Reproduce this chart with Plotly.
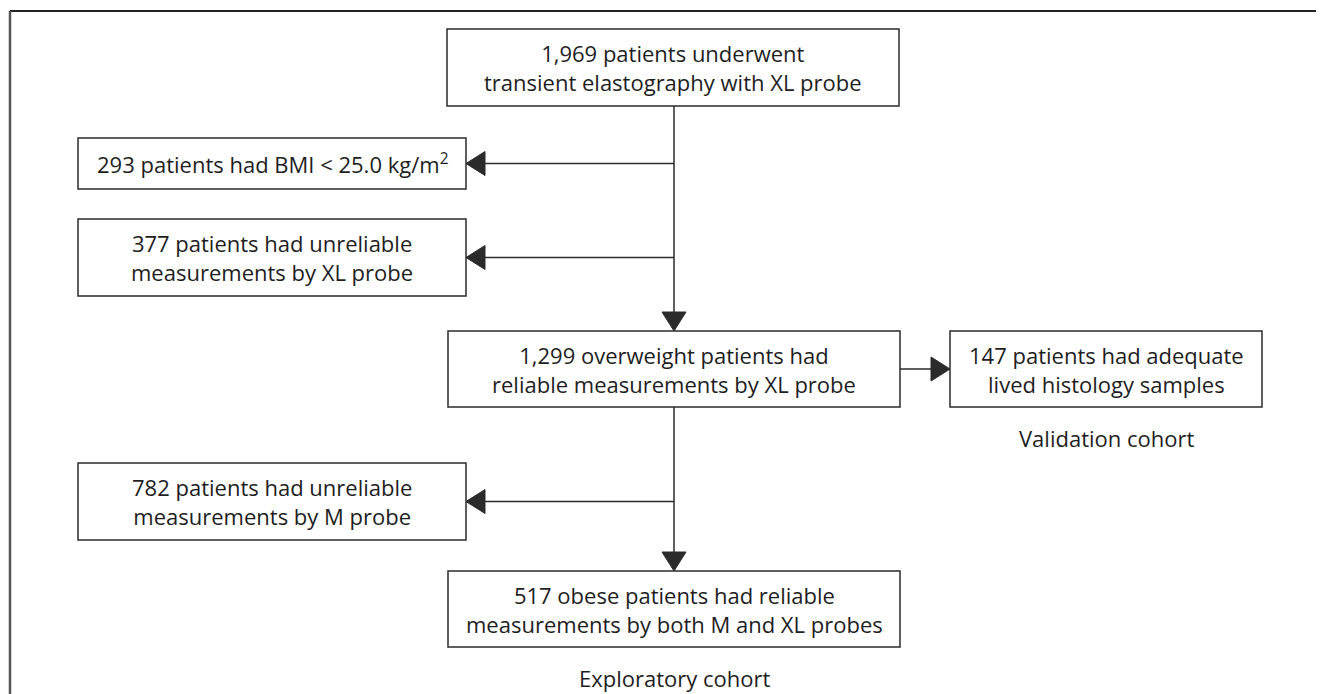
import plotly.graph_objects as go

# ---- data ----
counts = [1969, 293, 377, 1299, 147, 782, 517]
box_labels = [
    "1,969 patients underwent<br>transient elastography with XL probe",
    "293 patients had BMI < 25.0 kg/m<sup>2</sup>",
    "377 patients had unreliable<br>measurements by XL probe",
    "1,299 overweight patients had<br>reliable measurements by XL probe",
    "147 patients had adequate<br>lived histology samples",
    "782 patients had unreliable<br>measurements by M probe",
    "517 obese patients had reliable<br>measurements by both M and XL probes",
]
cohort_labels = ["Validation cohort", "Exploratory cohort"]

# ---- layout (page pixel coordinates: x0, y0, x1, y1) ----
boxes = [
    (447, 29, 899, 106),
    (78, 138, 466, 189),
    (78, 219, 466, 296),
    (448, 331, 900, 407),
    (950, 331, 1262, 407),
    (78, 463, 466, 540),
    (448, 571, 900, 647),
]
cohort_pos = [(1106, 438), (674, 678)]

LINE = "#2b2b2b"
FONT = "Open Sans"
FS = 22
TXT = "#1e1e1e"

fig = go.Figure()
shapes = []
annotations = []

# outer frame (top and left edges visible)
shapes.append(dict(type="line", x0=10, y0=11, x1=1330, y1=11,
                   line=dict(color="#222222", width=2)))
shapes.append(dict(type="line", x0=10, y0=11, x1=10, y1=700,
                   line=dict(color="#555555", width=2.5)))


def add_text(cx, cy, lab):
    annotations.append(dict(x=cx, y=cy, text=lab, showarrow=False,
                            xanchor="center", yanchor="middle",
                            font=dict(family=FONT, size=FS, color=TXT)))


for (x0, y0, x1, y1), lab in zip(boxes, box_labels):
    shapes.append(dict(type="rect", x0=x0, y0=y0, x1=x1, y1=y1,
                       line=dict(color=LINE, width=1.5), fillcolor="white"))
    add_text((x0 + x1) / 2, (y0 + y1) / 2, lab)

for (cx, cy), lab in zip(cohort_pos, cohort_labels):
    add_text(cx, cy, lab)

AL, AW = 19, 12  # arrowhead length, half-width


def arrow(x0, y0, x1, y1):
    if x0 == x1:
        d = 1 if y1 > y0 else -1
        base = y1 - d * AL
        shapes.append(dict(type="line", x0=x0, y0=y0, x1=x1, y1=base,
                           line=dict(color=LINE, width=1.5)))
        shapes.append(dict(type="path",
                           path=f"M {x1-AW},{base} L {x1+AW},{base} L {x1},{y1} Z",
                           fillcolor=LINE, line=dict(color=LINE, width=1)))
    else:
        d = 1 if x1 > x0 else -1
        base = x1 - d * AL
        shapes.append(dict(type="line", x0=x0, y0=y0, x1=base, y1=y1,
                           line=dict(color=LINE, width=1.5)))
        shapes.append(dict(type="path",
                           path=f"M {base},{y1-AW} L {base},{y1+AW} L {x1},{y1} Z",
                           fillcolor=LINE, line=dict(color=LINE, width=1)))


def midy(b):
    return (b[1] + b[3]) / 2


cx = 674
arrow(cx, boxes[0][3], cx, boxes[3][1])
arrow(cx, midy(boxes[1]), boxes[1][2], midy(boxes[1]))
arrow(cx, midy(boxes[2]), boxes[2][2], midy(boxes[2]))
arrow(boxes[3][2], midy(boxes[3]), boxes[4][0], midy(boxes[3]))
arrow(cx, boxes[3][3], cx, boxes[6][1])
arrow(cx, midy(boxes[5]), boxes[5][2], midy(boxes[5]))

# page has an 8px body margin; map axis coordinates to page pixels
OFF = 8
W, H = 1324 - OFF, 694 - OFF
fig.update_layout(
    width=W, height=H,
    margin=dict(l=0, r=0, t=0, b=0),
    paper_bgcolor="white", plot_bgcolor="white",
    xaxis=dict(range=[OFF, OFF + W], visible=False, fixedrange=True),
    yaxis=dict(range=[OFF + H, OFF], visible=False, fixedrange=True),
    shapes=shapes, annotations=annotations, showlegend=False,
)
fig.write_html("out.html", config=dict(displayModeBar=False))
